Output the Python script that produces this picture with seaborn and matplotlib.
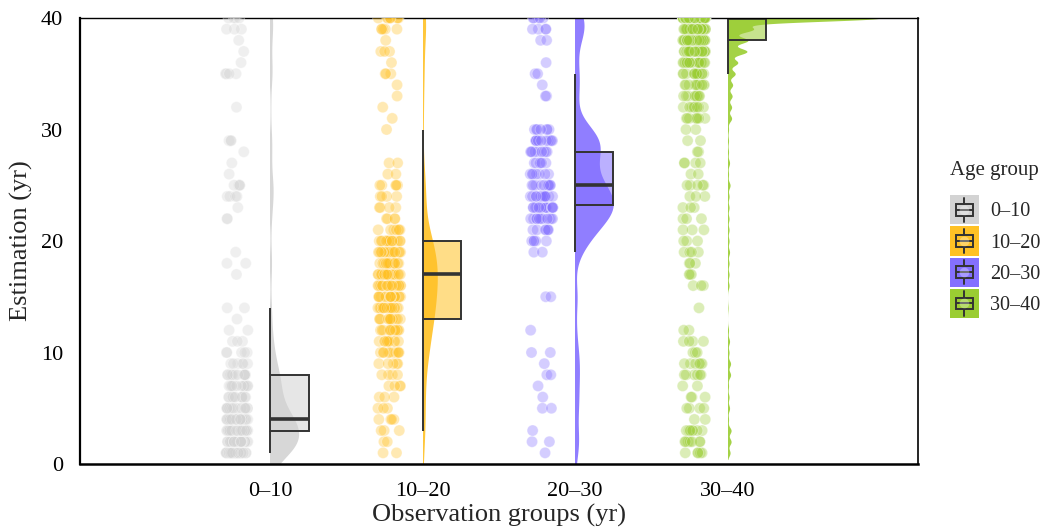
import numpy as np
import pandas as pd
import matplotlib
matplotlib.use("Agg")
import matplotlib.pyplot as plt
import seaborn as sns
from matplotlib.patches import Rectangle, Patch
from matplotlib.lines import Line2D
from matplotlib.legend_handler import HandlerBase

# Gruppen und Farben
groups = ["0–10", "10–20", "20–30", "30–40"]
colors = ["#D3D3D3", "#FFC125", "#8470FF", "#9ACD32"]

# Schätzwerte (Wert, Anzahl) je Gruppe
grey_vals = [1, 2, 3, 4, 5, 6, 7, 8, 9, 10, 11, 12, 13, 14, 17, 18, 19, 22, 23, 24,
             25, 26, 27, 28, 29, 32, 35, 36, 37, 38, 39, 40]
grey_counts = [28, 34, 34, 30, 15, 12, 12, 12, 6, 5, 3, 2, 1, 2, 1, 2, 1, 2, 1, 4,
               4, 1, 1, 1, 3, 1, 4, 1, 1, 1, 3, 4]

gold_vals = [1, 2, 3, 4, 5, 6, 7, 8, 9, 10, 11, 12, 13, 14, 15, 16, 17, 18, 19, 20,
             21, 22, 23, 24, 25, 26, 27, 30, 31, 32, 33, 34, 35, 36, 37, 38, 39, 40]
gold_counts = [2, 2, 3, 4, 3, 3, 4, 4, 5, 10, 10, 12, 16, 18, 18, 20, 22, 20, 18, 16,
               7, 4, 4, 4, 5, 2, 2, 1, 1, 1, 1, 1, 3, 1, 3, 1, 5, 9]

purple_vals = [1, 2, 3, 5, 6, 7, 8, 9, 10, 12, 15, 19, 20, 21, 22, 23, 24, 25, 26, 27,
               28, 29, 30, 33, 34, 35, 36, 38, 39, 40]
purple_counts = [1, 2, 1, 2, 1, 1, 2, 1, 2, 1, 2, 2, 5, 7, 12, 15, 14, 10, 7, 6,
                 9, 11, 7, 2, 1, 2, 1, 2, 4, 5]

green_vals = [1, 2, 3, 4, 5, 6, 7, 8, 9, 10, 11, 12, 14, 16, 17, 18, 19, 20, 21, 22,
              23, 24, 25, 26, 27, 28, 29, 30, 31, 32, 33, 34, 35, 36, 37, 38, 39, 40]
green_counts = [5, 7, 7, 2, 4, 3, 2, 6, 6, 3, 4, 2, 1, 3, 3, 3, 4, 3, 3, 3,
                3, 3, 5, 2, 4, 2, 2, 2, 8, 8, 9, 10, 15, 20, 38, 40, 50, 300]

# Boxplot-Kennwerte
box_q1 = [3, 13, 23.2, 38]
box_med = [4, 17, 25, 40]
box_q3 = [8, 20, 28, 40]
box_lo = [1, 3, 19, 35]
box_hi = [14, 30, 35, 40]

all_vals = [grey_vals, gold_vals, purple_vals, green_vals]
all_counts = [grey_counts, gold_counts, purple_counts, green_counts]

# Violinen: Bandbreite und Breite pro Gruppe
kde_bw = [1.2, 1.6, 1.3, 0.3]
violin_width = [0.37, 0.19, 0.5, 2.0]

rows = []
for g, v, c in zip(groups, all_vals, all_counts):
    for val in np.repeat(v, c):
        rows.append((g, float(val)))
df = pd.DataFrame(rows, columns=["group", "value"])
df["pos"] = df["group"].map({g: i for i, g in enumerate(groups)}) - 0.22

sns.set_theme(style="white")
plt.rcParams["font.family"] = ["Liberation Serif", "DejaVu Serif"]
np.random.seed(3)

fig = plt.figure(figsize=(10.46, 5.28), dpi=100)
ax = fig.add_axes([0.0765, 0.1212, 0.8011, 0.8447])

# halbe Violinen
for i, g in enumerate(groups):
    y = df.loc[df["group"] == g, "value"].to_numpy()
    n0 = len(ax.collections)
    sns.violinplot(x=np.full(len(y), i), y=y, native_scale=True, orient="x",
                   color=colors[i], saturation=1, width=violin_width[i],
                   density_norm="width", inner=None, linewidth=0, cut=2,
                   gridsize=1500, bw_method=kde_bw[i] / np.std(y, ddof=1),
                   alpha=0.9, ax=ax)
    for coll in ax.collections[n0:]:
        coll.set_clip_path(Rectangle((i, 0), 5, 40, transform=ax.transData))
        coll.set_zorder(1)

# Boxplots rechts neben der Achse
for i in range(len(groups)):
    stats = [dict(med=box_med[i], q1=box_q1[i], q3=box_q3[i],
                  whislo=box_lo[i], whishi=box_hi[i], fliers=[])]
    ax.bxp(stats, positions=[i + 0.125], widths=0.25, patch_artist=True,
           showcaps=False, showfliers=False, manage_ticks=False,
           boxprops=dict(facecolor=matplotlib.colors.to_rgba(colors[i], 0.55),
                         edgecolor="#333333", linewidth=1.4),
           medianprops=dict(color="#333333", linewidth=2.6),
           whiskerprops=dict(visible=False), zorder=2)
    ax.vlines([i, i], [box_lo[i], box_q3[i]], [box_q1[i], box_hi[i]],
              color="#333333", linewidth=1.4, zorder=2.5)

# Punkte links
sns.stripplot(data=df, x="pos", y="value", hue="group", palette=dict(zip(groups, colors)),
              native_scale=True, orient="x", jitter=0.075, size=8, alpha=0.35,
              edgecolor="white", linewidth=0.6, legend=False, ax=ax, zorder=3)

ax.set_xlim(-1.25, 4.25)
ax.set_ylim(0, 40)
ax.set_xticks(range(len(groups)), groups)
ax.set_yticks([0, 10, 20, 30, 40])
ax.tick_params(axis="both", direction="in", length=6, width=1.4, labelsize=16,
               colors="black")
ax.tick_params(axis="x", pad=13)
ax.tick_params(axis="y", pad=12)
ax.set_xlabel("Observation groups (yr)", fontsize=19, labelpad=2)
ax.set_ylabel("Estimation (yr)", fontsize=19, labelpad=6)

for side, lw in [("left", 1.6), ("bottom", 1.8), ("top", 1.0), ("right", 1.2)]:
    ax.spines[side].set_visible(True)
    ax.spines[side].set_color("black")
    ax.spines[side].set_linewidth(lw)


class BoxKey(HandlerBase):
    def create_artists(self, legend, orig_handle, xdescent, ydescent,
                       width, height, fontsize, trans):
        x0, y0 = -xdescent, -ydescent
        col = orig_handle.get_facecolor()
        dark = "#333333"
        bx0, bx1 = x0 + 0.2 * width, x0 + 0.8 * width
        by0, by1 = y0 + 0.3 * height, y0 + 0.7 * height
        xm = x0 + width / 2
        arts = [
            Rectangle((x0, y0), width, height, facecolor=col, edgecolor="none",
                      transform=trans),
            Rectangle((bx0, by0), bx1 - bx0, by1 - by0, facecolor="none",
                      edgecolor=dark, linewidth=1.4, transform=trans),
            Line2D([bx0, bx1], [y0 + height / 2] * 2, color=dark, lw=1.4,
                   transform=trans),
            Line2D([xm, xm], [y0 + 0.08 * height, by0], color=dark, lw=1.4,
                   transform=trans),
            Line2D([xm, xm], [by1, y0 + 0.92 * height], color=dark, lw=1.4,
                   transform=trans),
            Line2D([xm], [y0 + height / 2], marker="o", markersize=7,
                   markerfacecolor=(1, 1, 1, 0.3), markeredgecolor="none",
                   linestyle="none", transform=trans),
        ]
        return arts


handles = [Patch(facecolor=c, label=g) for g, c in zip(groups, colors)]
leg = fig.legend(handles=handles, title="Age group", loc="upper left",
                 bbox_to_anchor=(0.908, 0.695), frameon=False, fontsize=14.5,
                 title_fontsize=15, handlelength=1.45, handleheight=1.85,
                 labelspacing=0.1, handletextpad=0.55, borderaxespad=0,
                 borderpad=0, alignment="left", handler_map={Patch: BoxKey()})
leg._legend_box.sep = 11

fig.savefig("out.png", dpi=100)
